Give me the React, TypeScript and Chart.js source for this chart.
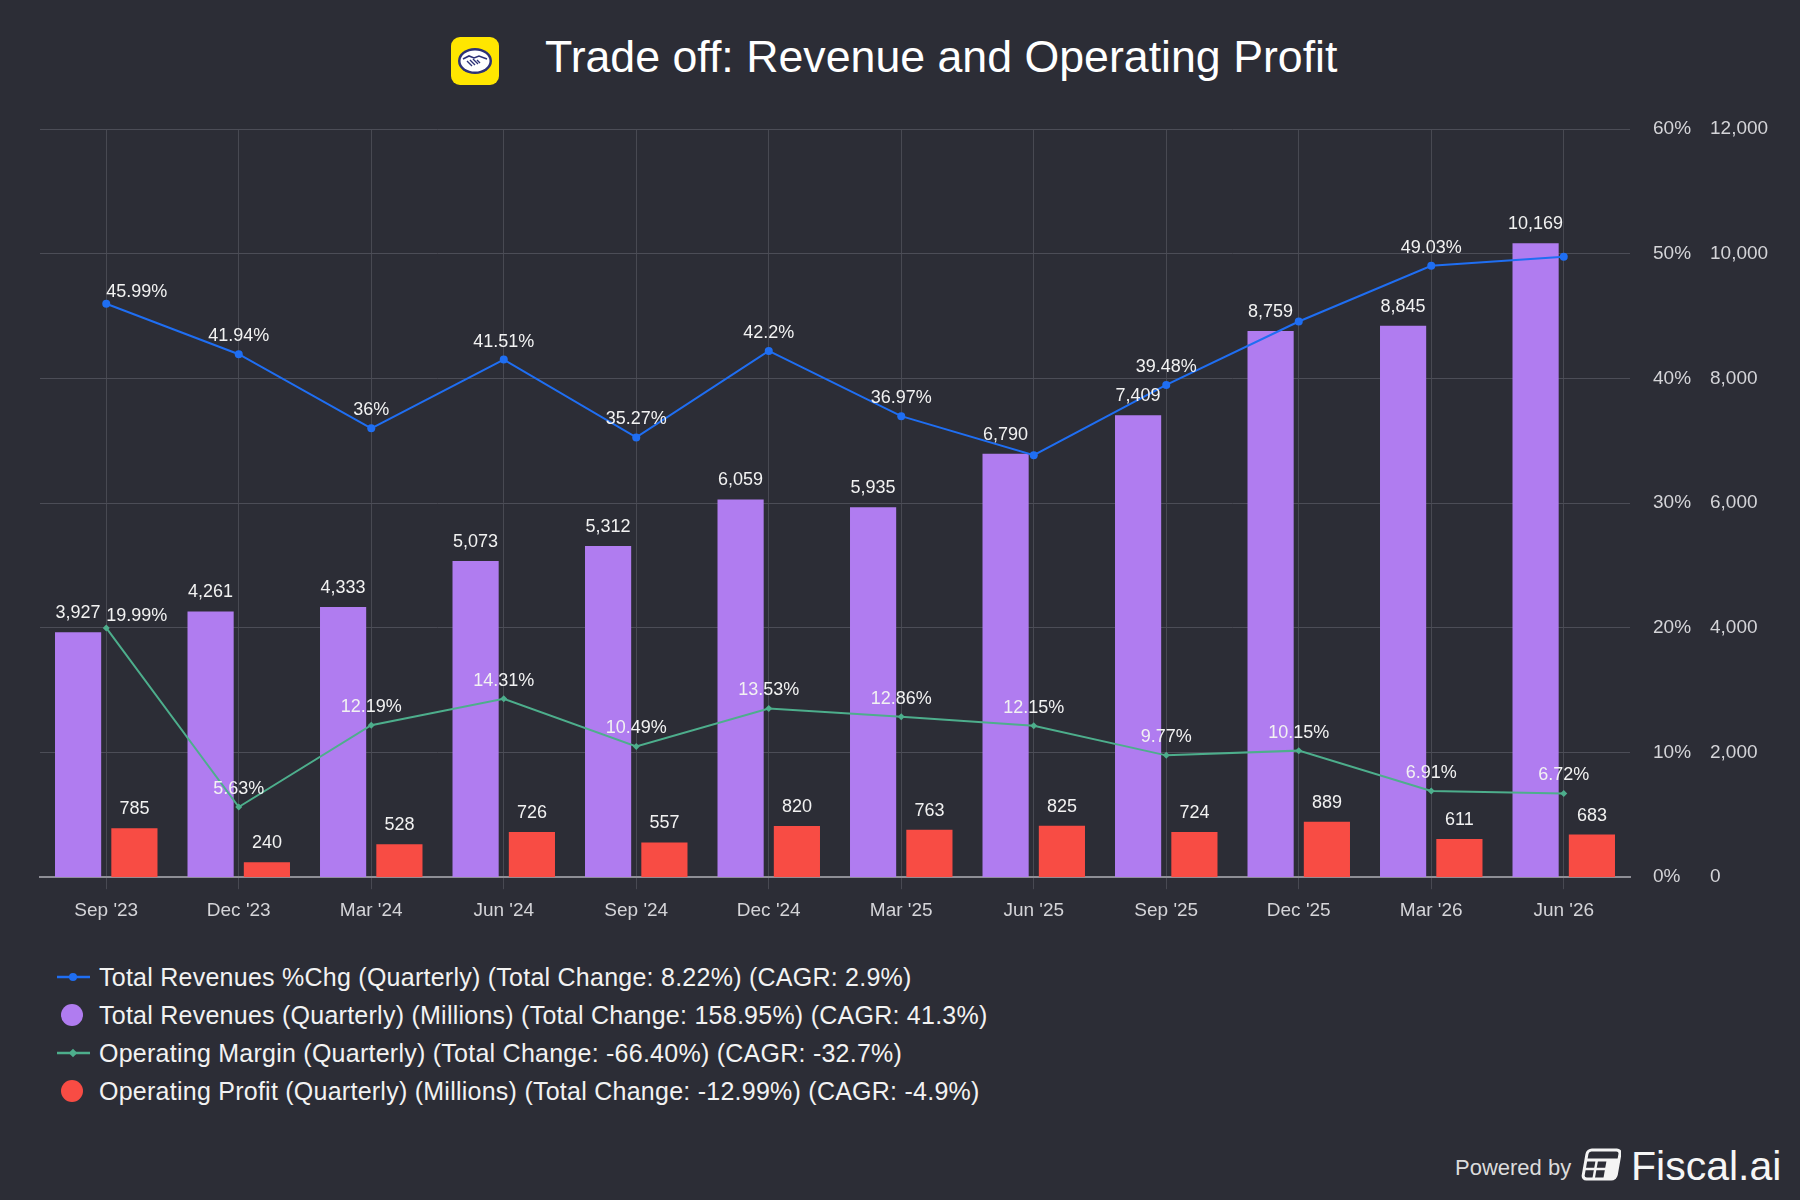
import React, { useEffect, useRef } from "react";
import { Chart, registerables } from "chart.js";

Chart.register(...registerables);

const categories = ["Sep '23", "Dec '23", "Mar '24", "Jun '24", "Sep '24", "Dec '24", "Mar '25", "Jun '25", "Sep '25", "Dec '25", "Mar '26", "Jun '26"];
const revenue = [3927, 4261, 4333, 5073, 5312, 6059, 5935, 6790, 7409, 8759, 8845, 10169];
const opProfit = [785, 240, 528, 726, 557, 820, 763, 825, 724, 889, 611, 683];
const revGrowth = [45.99, 41.94, 36, 41.51, 35.27, 42.2, 36.97, 33.84, 39.48, 44.56, 49.03, 49.76];
const opMargin = [19.99, 5.63, 12.19, 14.31, 10.49, 13.53, 12.86, 12.15, 9.77, 10.15, 6.91, 6.72];

const legendNames = [
  "Total Revenues %Chg (Quarterly) (Total Change: 8.22%) (CAGR: 2.9%)",
  "Total Revenues (Quarterly) (Millions) (Total Change: 158.95%) (CAGR: 41.3%)",
  "Operating Margin (Quarterly) (Total Change: -66.40%) (CAGR: -32.7%)",
  "Operating Profit (Quarterly) (Millions) (Total Change: -12.99%) (CAGR: -4.9%)",
];

const titleText = "Trade off: Revenue and Operating Profit";

const FONT = "'Liberation Sans', Arial, Helvetica, sans-serif";
const BG = "#2c2d36";
const BLUE = "#1f6ef2";
const PURPLE = "#b07cf0";
const GREEN = "#4dae8c";
const RED = "#f84c44";
const TICK = "#d4d4d8";

const fmtNum = (v: number) => v.toLocaleString("en-US");
const fmtPct = (v: number) => `${v}%`;

const labelPlugin = {
  id: "valueLabels",
  afterDatasetsDraw(chart: any) {
    const ctx = chart.ctx;
    ctx.save();
    ctx.font = `18px ${FONT}`;
    ctx.fillStyle = "#f2f2f2";
    ctx.textBaseline = "middle";
    const placed: number[][] = [];
    const priority = [1, 3, 2, 0];
    for (const di of priority) {
      const ds = chart.data.datasets[di];
      const meta = chart.getDatasetMeta(di);
      const isBar = ds.type === "bar";
      meta.data.forEach((el: any, i: number) => {
        const v = ds.data[i] as number;
        const text = isBar ? fmtNum(v) : fmtPct(v);
        const w = ctx.measureText(text).width;
        let x = el.x;
        let y = isBar ? el.y - 19 : el.y - 18;
        let align: CanvasTextAlign = "center";
        let x0 = x - w / 2;
        if (!isBar && i === 0) {
          align = "left";
          y = el.y - 12;
          x0 = x;
        }
        const box = [x0, y - 9, x0 + w, y + 9];
        const hit = placed.some(
          (b) => box[0] < b[2] && box[2] > b[0] && box[1] < b[3] && box[3] > b[1]
        );
        if (hit) return;
        placed.push(box);
        ctx.textAlign = align;
        ctx.fillText(text, x, y);
      });
    }
    ctx.restore();
  },
};

function Logo() {
  return (
    <svg width="48" height="48" viewBox="0 0 48 48" style={{ position: "absolute", left: 451, top: 37 }}>
      <rect x="0" y="0" width="48" height="48" rx="9" fill="#ffe600" />
      <ellipse cx="24" cy="24" rx="17" ry="13" fill="#2d3277" />
      <ellipse cx="24" cy="24" rx="14.5" ry="10.5" fill="#ffffff" />
      <path d="M12 22 L18 19 L23 21 L28 19 L36 22" stroke="#2d3277" strokeWidth="1.6" fill="none" />
      <path d="M16 24 L21 29 M19 23 L24 28 M22 22 L27 27 M26 23 L29 26" stroke="#2d3277" strokeWidth="1.4" fill="none" />
    </svg>
  );
}

function FiscalIcon() {
  return (
    <svg width="40" height="34" viewBox="0 0 40 34" style={{ position: "absolute", left: 1581, top: 1148 }}>
      <g transform="skewX(-10) translate(5 0)">
        <rect x="2" y="2" width="33" height="29" rx="4" fill="none" stroke="#f4f4f4" strokeWidth="3" />
        <line x1="2" y1="12" x2="35" y2="12" stroke="#f4f4f4" strokeWidth="3" />
        <line x1="2" y1="21" x2="24" y2="21" stroke="#f4f4f4" strokeWidth="2.5" />
        <line x1="13" y1="12" x2="13" y2="31" stroke="#f4f4f4" strokeWidth="2.5" />
        <line x1="24" y1="12" x2="24" y2="31" stroke="#f4f4f4" strokeWidth="2.5" />
        <rect x="24" y="12" width="11" height="19" fill="#f4f4f4" />
      </g>
    </svg>
  );
}

function LegendMarker({ kind, color }: { kind: string; color: string }) {
  if (kind === "circle") {
    return (
      <svg width="40" height="26" style={{ position: "absolute", left: 52, top: -13 }}>
        <circle cx="20" cy="13" r="11" fill={color} />
      </svg>
    );
  }
  return (
    <svg width="40" height="26" style={{ position: "absolute", left: 52, top: -13 }}>
      <line x1="5" y1="13" x2="38" y2="13" stroke={color} strokeWidth="2.5" />
      {kind === "line-circle" ? (
        <circle cx="21" cy="13" r="4" fill={color} />
      ) : (
        <rect x="18" y="10" width="6" height="6" fill={color} transform="rotate(45 21 13)" />
      )}
    </svg>
  );
}

export default function App() {
  const canvasRef = useRef<HTMLCanvasElement | null>(null);

  useEffect(() => {
    document.body.style.margin = "0";
    document.body.style.background = BG;
    const canvas = canvasRef.current;
    if (!canvas) return;
    const tickFont = { size: 19, family: FONT };
    const chart = new Chart(canvas, {
      type: "bar",
      data: {
        labels: categories,
        datasets: [
          {
            type: "line",
            label: legendNames[0],
            data: revGrowth,
            yAxisID: "pct",
            borderColor: BLUE,
            backgroundColor: BLUE,
            borderWidth: 2,
            pointRadius: 4,
            pointStyle: "circle",
            pointBackgroundColor: BLUE,
            pointBorderWidth: 0,
            order: 0,
          } as any,
          {
            type: "bar",
            label: legendNames[1],
            data: revenue,
            yAxisID: "val",
            backgroundColor: PURPLE,
            barPercentage: 0.82,
            categoryPercentage: 0.85,
            order: 1,
          } as any,
          {
            type: "line",
            label: legendNames[2],
            data: opMargin,
            yAxisID: "pct",
            borderColor: GREEN,
            backgroundColor: GREEN,
            borderWidth: 2,
            pointRadius: 3.5,
            pointStyle: "rectRot",
            pointBackgroundColor: GREEN,
            pointBorderWidth: 0,
            order: 0,
          } as any,
          {
            type: "bar",
            label: legendNames[3],
            data: opProfit,
            yAxisID: "val",
            backgroundColor: RED,
            barPercentage: 0.82,
            categoryPercentage: 0.85,
            order: 1,
          } as any,
        ],
      },
      options: {
        responsive: false,
        animation: false,
        devicePixelRatio: 1,
        layout: { padding: { left: 40, right: 0, top: 29, bottom: 7 } },
        plugins: { legend: { display: false }, tooltip: { enabled: false } },
        scales: {
          x: {
            offset: true,
            grid: { offset: false, color: "#484952", lineWidth: 1, drawTicks: true, tickLength: 12, tickColor: "#484952" },
            border: { color: "#8e8e96", width: 2 },
            ticks: { color: TICK, font: tickFont, padding: 10, maxRotation: 0, autoSkip: false },
          },
          pct: {
            type: "linear",
            position: "right",
            weight: 0,
            min: 0,
            max: 60,
            ticks: { stepSize: 10, callback: (v: any) => `${v}%`, color: TICK, font: tickFont, padding: 10 },
            grid: { color: "#4c4d57", drawTicks: true, tickLength: 13, tickColor: "rgba(0,0,0,0)" },
            border: { display: false },
            afterFit: (s: any) => { s.width = 70; },
          },
          val: {
            type: "linear",
            position: "right",
            weight: 1,
            min: 0,
            max: 12000,
            ticks: { stepSize: 2000, callback: (v: any) => fmtNum(Number(v)), color: TICK, font: tickFont, padding: 10 },
            grid: { display: false, drawTicks: false },
            border: { display: false },
            afterFit: (s: any) => { s.width = 100; },
          },
        } as any,
      },
      plugins: [labelPlugin],
    });
    return () => chart.destroy();
  }, []);

  const markers = [
    { kind: "line-circle", color: BLUE },
    { kind: "circle", color: PURPLE },
    { kind: "line-diamond", color: GREEN },
    { kind: "circle", color: RED },
  ];

  return (
    <div style={{ position: "absolute", left: 0, top: 0, width: 1800, height: 1200, background: BG, fontFamily: FONT, overflow: "hidden" }}>
      <Logo />
      <div style={{ position: "absolute", left: 545, top: 57, transform: "translateY(-50%)", fontSize: 44.7, color: "#ffffff", whiteSpace: "nowrap", lineHeight: 1 }}>
        {titleText}
      </div>
      <canvas ref={canvasRef} width={1800} height={839} style={{ position: "absolute", left: 0, top: 100, width: 1800, height: 839 }} />
      {legendNames.map((name, i) => (
        <div key={i} style={{ position: "absolute", left: 0, top: 977 + 38 * i, height: 0 }}>
          <LegendMarker kind={markers[i].kind} color={markers[i].color} />
          <div style={{ position: "absolute", left: 99, top: 0, transform: "translateY(-50%)", fontSize: 25, letterSpacing: "0.25px", color: "#f2f2f2", whiteSpace: "nowrap", lineHeight: 1 }}>
            {name}
          </div>
        </div>
      ))}
      <div style={{ position: "absolute", left: 1455, top: 1168, transform: "translateY(-50%)", fontSize: 22, color: "#dcdcdc", whiteSpace: "nowrap", lineHeight: 1 }}>
        Powered by
      </div>
      <FiscalIcon />
      <div style={{ position: "absolute", left: 1631, top: 1166, transform: "translateY(-50%)", fontSize: 41, fontWeight: 500, color: "#f6f6f6", whiteSpace: "nowrap", lineHeight: 1 }}>
        Fiscal.ai
      </div>
    </div>
  );
}
